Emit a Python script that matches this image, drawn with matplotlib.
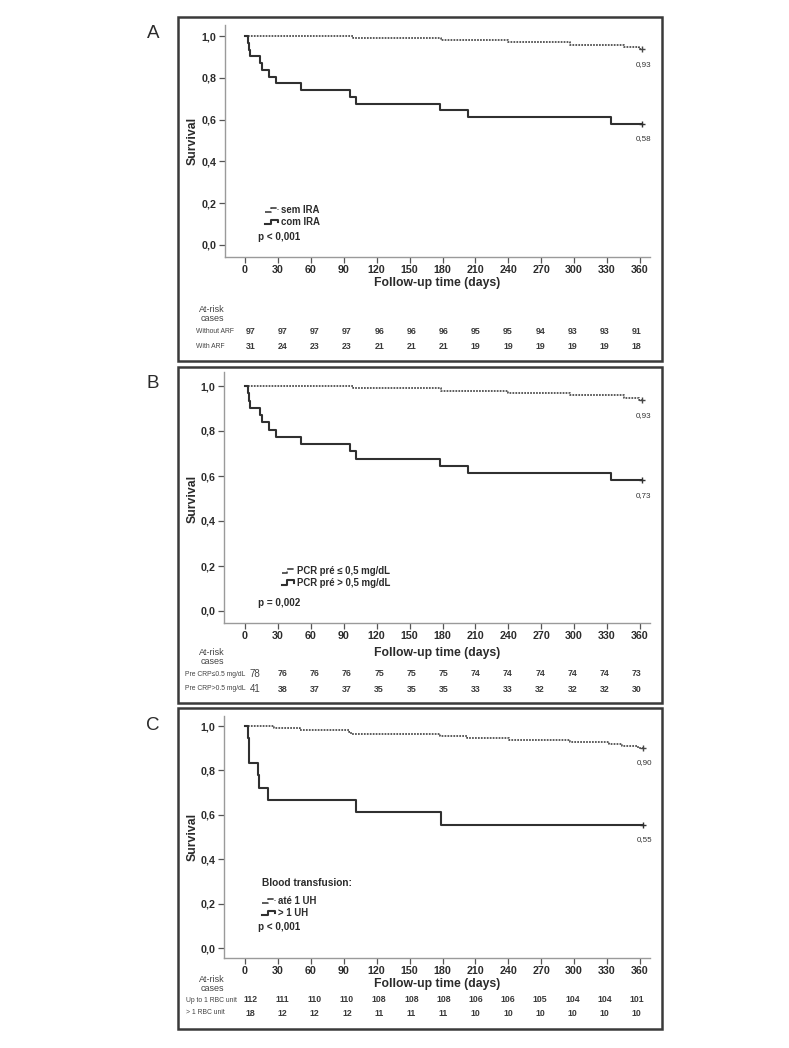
import numpy as np
import matplotlib
matplotlib.use("Agg")
import matplotlib.pyplot as plt
from matplotlib.lines import Line2D
from matplotlib.patches import Rectangle
from matplotlib.legend_handler import HandlerBase
from matplotlib.transforms import blended_transform_factory

W, H = 789, 1048

# ================= DATA =================

days = [0, 30, 60, 90, 120, 150, 180, 210, 240, 270, 300, 330, 360]

# A - acute renal failure
a_no_t = [0, 98, 179, 240, 296, 345, 359, 362]
a_no_s = [1.0, 0.990, 0.979, 0.969, 0.959, 0.948, 0.938, 0.938]
a_yes_t = [0, 3, 3.5, 5, 14, 15.5, 22, 28, 51, 96, 101, 178, 203, 334, 362]
a_yes_s = [1.0, 0.968, 0.935, 0.903, 0.871, 0.839, 0.806, 0.774, 0.742,
           0.710, 0.677, 0.645, 0.613, 0.581, 0.581]
a_end_labels = ["0,93", "0,58"]
a_rows = ["Without ARF", "With ARF"]
a_risk_no = [97, 97, 97, 97, 96, 96, 96, 95, 95, 94, 93, 93, 91]
a_risk_yes = [31, 24, 23, 23, 21, 21, 21, 19, 19, 19, 19, 19, 18]

# B - pre-op CRP
b_low_t = [0, 98, 179, 240, 296, 345, 359, 362]
b_low_s = [1.0, 0.990, 0.979, 0.969, 0.959, 0.948, 0.938, 0.938]
b_high_t = [0, 3, 3.5, 5, 14, 15.5, 22, 28, 51, 96, 101, 178, 203, 334, 362]
b_high_s = [1.0, 0.968, 0.935, 0.903, 0.871, 0.839, 0.806, 0.774, 0.742,
            0.710, 0.677, 0.645, 0.613, 0.581, 0.581]
b_end_labels = ["0,93", "0,73"]
b_rows = ["Pre CRP\u22640.5 mg/dL", "Pre CRP>0.5 mg/dL"]
b_risk_low = [78, 76, 76, 76, 75, 75, 75, 74, 74, 74, 74, 74, 73]
b_risk_high = [41, 38, 37, 37, 35, 35, 35, 33, 33, 32, 32, 32, 30]

# C - blood transfusion
c_low_t = [0, 26, 50, 95, 97, 178, 202, 241, 296, 332, 344, 358, 363]
c_low_s = [1.0, 0.991, 0.982, 0.973, 0.964, 0.955, 0.946, 0.938, 0.929,
           0.920, 0.911, 0.902, 0.902]
c_high_t = [0, 3, 3.3, 4, 12, 13, 21, 101, 179, 363]
c_high_s = [1.0, 0.944, 0.889, 0.833, 0.778, 0.722, 0.667, 0.611, 0.556, 0.556]
c_end_labels = ["0,90", "0,55"]
c_rows = ["Up to 1 RBC unit", "> 1 RBC unit"]
c_risk_low = [112, 111, 110, 110, 108, 108, 108, 106, 106, 105, 104, 104, 101]
c_risk_high = [18, 12, 12, 12, 11, 11, 11, 10, 10, 10, 10, 10, 10]

# ================= STYLE =================

plt.rcParams['font.family'] = ['Liberation Sans', 'DejaVu Sans']
DARK = "#2b2b2b"
DOT = dict(color="#474747", lw=1.25, ls=(0, (1, 0.7)))
SOLID = dict(color="#303030", lw=1.5, ls="-")


class StepHandler(HandlerBase):
    # little step icon like SPSS legends
    def create_artists(self, legend, orig, xd, yd, w, h, fs, trans):
        x0 = -xd
        xs = [x0, x0 + 0.45 * w, x0 + 0.45 * w, x0 + w, x0 + w]
        ys = [0.15 * h, 0.15 * h, 0.85 * h, 0.85 * h, 0.5 * h]
        ln = Line2D(xs, ys, color=orig.get_color(), lw=orig.get_linewidth(),
                    ls=orig.get_linestyle())
        ln.set_transform(trans)
        return [ln]


def fx(px):
    return px / W


def fy(py):
    return 1 - py / H


fig = plt.figure(figsize=(W / 100, H / 100), dpi=100)


def panel(letter, box, ax_px, y1_px, y0_px, curves, end_labels, legend_cfg,
          ptext, risk, rows, rows_y, label_x, first_plain=False):
    # frame around the panel
    bl, bt, br, bb = box
    fig.add_artist(Rectangle((fx(bl), fy(bb)), fx(br - bl), (bb - bt) / H,
                             transform=fig.transFigure, fill=False,
                             ec="#3a3a3a", lw=1.8))
    fig.text(fx(bl - 25), fy(bt + 17), letter, fontsize=13.5, color=DARK,
             ha="center", va="center")

    left, top, right, bottom = ax_px
    ax = fig.add_axes([fx(left), fy(bottom), fx(right - left), (bottom - top) / H])
    per = (y0_px - y1_px)
    ax.set_ylim(-(bottom - y0_px) / per, 1 + (y1_px - top) / per)
    x0_px, x360_px = 245, 640
    ppd = (x360_px - x0_px) / 360
    ax.set_xlim(-(x0_px - left) / ppd, (right - x0_px) / ppd)

    for (t, s, sty) in curves:
        ax.step(t, s, where="post", **sty)
        ax.plot(t[-1], s[-1], marker="+", color=sty["color"], ms=4, mew=1)
    for (t, s, _), lab in zip(curves, end_labels):
        ax.annotate(lab, (t[-1], s[-1]), xytext=(1, -11), textcoords="offset points",
                    ha="center", va="center", fontsize=5.8, color="#333333")

    for sp in ["top", "right"]:
        ax.spines[sp].set_visible(False)
    for sp in ["left", "bottom"]:
        ax.spines[sp].set_color("#9a9a9a")
        ax.spines[sp].set_linewidth(1.0)
    ax.set_xticks(days)
    ax.set_yticks([0, 0.2, 0.4, 0.6, 0.8, 1.0])
    ax.set_yticklabels(["0,0", "0,2", "0,4", "0,6", "0,8", "1,0"])
    ax.tick_params(length=4, width=0.9, color="#555555", labelsize=7.7,
                   labelcolor=DARK, pad=2)
    for lb in ax.get_xticklabels() + ax.get_yticklabels():
        lb.set_fontweight("bold")

    ax.text(-(left - 193) / (right - left), 0.5, "Survival", rotation=90,
            transform=blended_transform_factory(ax.transAxes, ax.transData),
            ha="center", va="center", fontsize=8.8, fontweight="bold",
            color=DARK)

    # legend
    hs = [Line2D([], [], **curves[0][2]), Line2D([], [], **curves[1][2])]
    leg = ax.legend(hs, legend_cfg["labels"], handler_map={Line2D: StepHandler()},
                    loc="upper left", bbox_to_anchor=legend_cfg["anchor"],
                    frameon=False, fontsize=6.9, handlelength=1.3,
                    handletextpad=0.3, labelspacing=0.2, borderpad=0,
                    borderaxespad=0, title=legend_cfg.get("title"),
                    title_fontsize=7.3, alignment="left")
    for tx in leg.get_texts():
        tx.set_fontweight("bold")
        tx.set_color(DARK)
    if legend_cfg.get("title"):
        leg.get_title().set_fontweight("bold")
        leg.get_title().set_color(DARK)
        leg._legend_box.sep = 6
    ax.text(ptext[0], ptext[1], ptext[2], fontsize=7.1, fontweight="bold",
            color=DARK, ha="left", va="center")

    # x label and at-risk table
    bt_tr = blended_transform_factory(ax.transAxes, fig.transFigure)
    ax.text(0.5, fy(rows_y[0]), "Follow-up time (days)", transform=bt_tr,
            ha="center", va="center", fontsize=8.8, fontweight="bold",
            color=DARK)
    dt = blended_transform_factory(ax.transData, fig.transFigure)
    ax.text(-(left - label_x) / (right - left), fy(rows_y[1]), "At-risk\ncases",
            transform=bt_tr, ha="center", va="center", fontsize=6.5,
            color="#444444", linespacing=0.95)
    xs = np.linspace(5, 357, len(days))
    for r, (vals, name) in enumerate(zip(risk, rows)):
        yy = fy(rows_y[2 + r])
        fig.text(fx(rows_y[4]), yy, name, ha="left", va="center", fontsize=4.9,
                 color="#444444")
        for i, v in enumerate(vals):
            if first_plain and i == 0:
                ax.text(xs[0] + 4, yy, str(v), transform=dt, ha="center",
                        va="center", fontsize=7, color="#444444")
            else:
                ax.text(xs[i], yy, str(v), transform=dt, ha="center",
                        va="center", fontsize=6.3, fontweight="bold",
                        color="#3a3a3a")
    return ax


# ================= PANELS =================

panel("A", (178, 17, 662, 361), (225, 25, 650, 257), 36, 245,
      [(a_no_t, a_no_s, DOT), (a_yes_t, a_yes_s, SOLID)], a_end_labels,
      {"labels": ["sem IRA", "com IRA"], "anchor": (0.095, 0.222)},
      (12, 0.04, "p < 0,001"), [a_risk_no, a_risk_yes], a_rows,
      (283, 314, 332, 346, 196), 212)

panel("B", (178, 367, 662, 703), (224, 372, 650, 623), 386, 611,
      [(b_low_t, b_low_s, DOT), (b_high_t, b_high_s, SOLID)], b_end_labels,
      {"labels": ["PCR pré \u2264 0,5 mg/dL", "PCR pré > 0,5 mg/dL"],
       "anchor": (0.135, 0.226)},
      (12, 0.036, "p = 0,002"), [b_risk_low, b_risk_high], b_rows,
      (653, 657, 674, 689, 185), 212, first_plain=True)

panel("C", (178, 708, 662, 1029), (224, 716, 650, 958), 726, 948,
      [(c_low_t, c_low_s, DOT), (c_high_t, c_high_s, SOLID)], c_end_labels,
      {"labels": ["até 1 UH", "> 1 UH"], "anchor": (0.09, 0.33),
       "title": "Blood transfusion:"},
      (12, 0.095, "p < 0,001"), [c_risk_low, c_risk_high], c_rows,
      (984, 984, 1000, 1013, 186), 212)

fig.savefig("out.png", dpi=100)
